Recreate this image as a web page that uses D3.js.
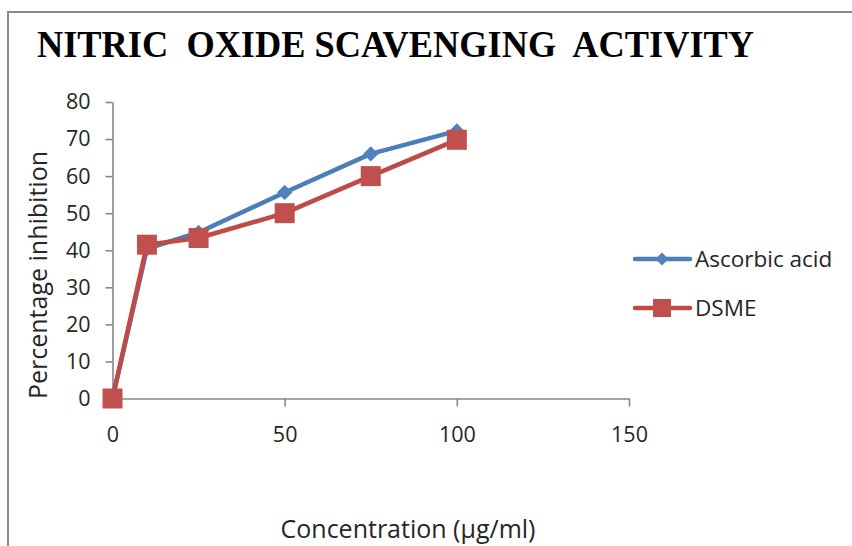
<!DOCTYPE html>
<html>
<head>
<meta charset="utf-8">
<script src="https://cdn.jsdelivr.net/npm/d3@7"></script>
<style>
  body { margin: 0; background: #fff; }
  text { font-family: "Open Sans", "Noto Sans", sans-serif; fill: #262626; }
</style>
</head>
<body>
<svg width="852" height="546"></svg>
<script>
// chart values
var concentrations = [0, 10, 25, 50, 75, 100];
var ascorbicAcid = [0, 40.4, 44.8, 55.6, 66, 72.2];
var dsme = [0, 41.5, 43.3, 50, 60, 69.8];
var seriesNames = ["Ascorbic acid", "DSME"];
var xTicks = [0, 50, 100, 150];
var yTicks = [0, 10, 20, 30, 40, 50, 60, 70, 80];

var svg = d3.select("svg");

// chart frame (runs off the right and bottom edges)
svg.append("rect")
    .attr("x", 8).attr("y", 12)
    .attr("width", 900).attr("height", 600)
    .attr("fill", "#fff")
    .attr("stroke", "#8a8a8a")
    .attr("stroke-width", 2);

svg.append("text")
    .attr("x", 37).attr("y", 57)
    .attr("textLength", 717)
    .attr("lengthAdjust", "spacingAndGlyphs")
    .style("white-space", "pre")
    .style("font-family", "'Liberation Serif', 'DejaVu Serif', serif")
    .style("font-weight", "bold")
    .style("font-size", "38px")
    .style("fill", "#000")
    .text("NITRIC  OXIDE SCAVENGING  ACTIVITY");

var x = d3.scaleLinear().domain([0, 150]).range([112.5, 629]);
var y = d3.scaleLinear().domain([0, 80]).range([398.5, 102]);

var xAxis = svg.append("g")
    .attr("transform", "translate(0," + y(0) + ")")
    .call(d3.axisBottom(x).tickValues(xTicks).tickSize(8).tickSizeOuter(0).tickPadding(20));

var yAxis = svg.append("g")
    .attr("transform", "translate(" + x(0) + ",0)")
    .call(d3.axisLeft(y).tickValues(yTicks).tickSize(7).tickSizeOuter(0).tickPadding(15));

[xAxis, yAxis].forEach(function(ax) {
  ax.selectAll("path, line").attr("stroke", "#868686").attr("stroke-width", 1.6);
  ax.selectAll("text").style("font-size", "21.5px").style("fill", "#262626")
    .style("font-family", "'Open Sans', 'Noto Sans', sans-serif");
});
xAxis.selectAll(".tick").filter(function(d) { return d === 0; }).select("line").remove();

// axis titles
svg.append("text")
    .attr("x", 408).attr("y", 538)
    .attr("text-anchor", "middle")
    .style("font-size", "25px")
    .text("Concentration (\u00b5g/ml)");

svg.append("text")
    .attr("transform", "translate(47,275) rotate(-90)")
    .attr("text-anchor", "middle")
    .style("font-size", "25px")
    .text("Percentage inhibition");

var series = [
  { name: seriesNames[0], values: ascorbicAcid, line: "#4a7ebb", fill: "#4f81bd", marker: "diamond" },
  { name: seriesNames[1], values: dsme, line: "#be4b48", fill: "#c0504d", marker: "square" }
];

var line = d3.line()
    .x(function(d) { return x(d[0]); })
    .y(function(d) { return y(d[1]); });

var diamond = d3.symbol().type(d3.symbolDiamond2).size(150);
var square = "M-10,-10H10V10H-10Z";

series.forEach(function(s) {
  var pts = concentrations.map(function(c, i) { return [c, s.values[i]]; });
  svg.append("path")
      .datum(pts)
      .attr("d", line)
      .attr("fill", "none")
      .attr("stroke", s.line)
      .attr("stroke-width", 4.5)
      .attr("stroke-linejoin", "round");

  svg.selectAll(null)
      .data(pts)
      .enter().append("path")
      .attr("transform", function(d) { return "translate(" + x(d[0]) + "," + y(d[1]) + ")"; })
      .attr("d", s.marker === "diamond" ? diamond() : square)
      .attr("fill", s.fill);
});

// legend
var legend = svg.append("g");
series.forEach(function(s, i) {
  var ly = 259 + i * 49;
  legend.append("line")
      .attr("x1", 635).attr("x2", 690)
      .attr("y1", ly).attr("y2", ly)
      .attr("stroke", s.line)
      .attr("stroke-width", 4.5)
      .attr("stroke-linecap", "round");
  legend.append("path")
      .attr("transform", "translate(662," + ly + ")")
      .attr("d", s.marker === "diamond" ? d3.symbol().type(d3.symbolDiamond2).size(110)() : "M-9,-9H9V9H-9Z")
      .attr("fill", s.fill);
  legend.append("text")
      .attr("x", 695).attr("y", ly + 8)
      .style("font-size", "22.5px")
      .text(s.name);
});
</script>
</body>
</html>
